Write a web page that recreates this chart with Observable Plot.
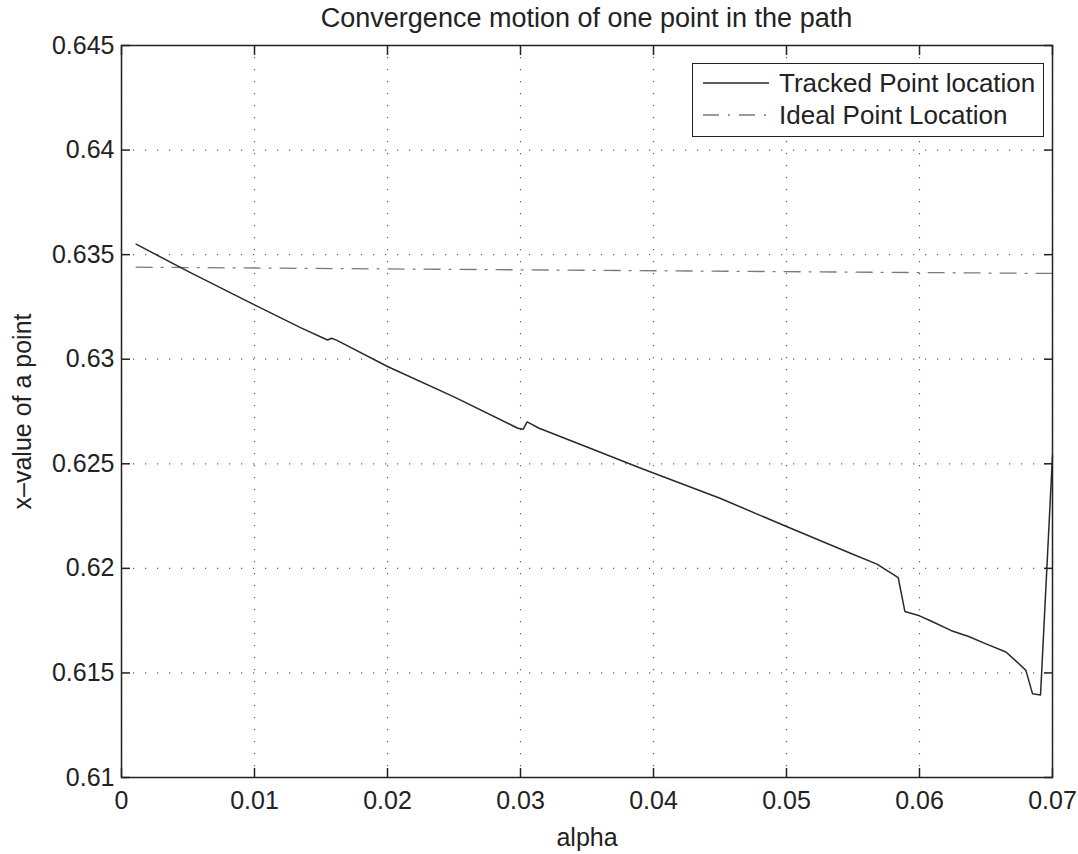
<!DOCTYPE html>
<html>
<head>
<meta charset="utf-8">
<script src="https://cdn.jsdelivr.net/npm/d3@7"></script>
<script src="https://cdn.jsdelivr.net/npm/@observablehq/plot@0.6"></script>
<style>
  html, body { margin: 0; padding: 0; background: #fff; }
  #wrap { position: relative; width: 1078px; height: 854px; font-family: "Liberation Sans", Arial, sans-serif; color: #222; }
  #title { position: absolute; left: 121px; width: 931px; top: 3px; text-align: center; font-size: 27px; line-height: 30px; }
  #legend { position: absolute; left: 692px; top: 63px; width: 350px; height: 72px; border: 1.5px solid #222; background: #fff; font-size: 26px; }
  .row { position: absolute; left: 0; height: 30px; display: flex; align-items: center; line-height: 30px; }
  .row svg { margin-left: 10px; margin-right: 10px; }
</style>
</head>
<body>
<div id="wrap">
  <div id="title">Convergence motion of one point in the path</div>
  <div id="chart"></div>
  <div id="legend"></div>
</div>
<script>
// ---- data ----
const trackedAlpha = [0.0011, 0.005, 0.010, 0.0135, 0.0152, 0.0155, 0.0158, 0.0162, 0.020, 0.025, 0.0298, 0.0302, 0.0305, 0.0314, 0.035, 0.039, 0.045, 0.050, 0.0549, 0.0568, 0.0584, 0.0589, 0.0600, 0.0609, 0.0624, 0.0637, 0.0650, 0.0665, 0.0672, 0.0680, 0.0685, 0.0691, 0.0700];
const trackedX     = [0.6355, 0.6342, 0.6326, 0.6315, 0.6310, 0.63092, 0.63100, 0.6309, 0.62965, 0.6282, 0.6267, 0.62665, 0.62700, 0.6267, 0.6258, 0.6248, 0.62335, 0.6220, 0.6207, 0.6202, 0.61956, 0.61794, 0.61773, 0.61747, 0.61702, 0.61674, 0.61639, 0.6160, 0.6156, 0.61512, 0.61400, 0.61395, 0.6254];
const idealAlpha = [0.0011, 0.0700];
const idealX     = [0.6344, 0.6341];
const xTicks = [0, 0.01, 0.02, 0.03, 0.04, 0.05, 0.06, 0.07];
const xTickLabels = ["0", "0.01", "0.02", "0.03", "0.04", "0.05", "0.06", "0.07"];
const yTicks = [0.61, 0.615, 0.62, 0.625, 0.63, 0.635, 0.64, 0.645];
const yTickLabels = ["0.61", "0.615", "0.62", "0.625", "0.63", "0.635", "0.64", "0.645"];
const seriesNames = ["Tracked Point location", "Ideal Point Location"];
const xLabel = "alpha";
const yLabel = "x–value of a point";

const tracked = trackedAlpha.map((a, i) => ({alpha: a, x: trackedX[i]}));
const ideal = idealAlpha.map((a, i) => ({alpha: a, x: idealX[i]}));
const xFmt = d => xTickLabels[xTicks.findIndex(t => Math.abs(t - d) < 1e-9)];
const yFmt = d => yTickLabels[yTicks.findIndex(t => Math.abs(t - d) < 1e-9)];

const gridStyle = {stroke: "#444", strokeOpacity: 0.85, strokeWidth: 1.2, strokeDasharray: "1.2,10.8"};
const trackedStyle = {stroke: "#2a2a2a", strokeWidth: 1.5};
const idealStyle = {stroke: "#7a7a7a", strokeWidth: 1.3, strokeDasharray: "16,9,2,9"};

const chart = Plot.plot({
  width: 1078,
  height: 854,
  marginLeft: 121,
  marginRight: 26,
  marginTop: 45,
  marginBottom: 77,
  style: {fontFamily: "Liberation Sans, Arial, sans-serif", fontSize: "25px", color: "#222", background: "transparent"},
  x: {domain: [0, 0.07]},
  y: {domain: [0.61, 0.645]},
  marks: [
    Plot.gridX(xTicks, gridStyle),
    Plot.gridY(yTicks, gridStyle),
    Plot.line(ideal, {x: "alpha", y: "x", ...idealStyle}),
    Plot.line(tracked, {x: "alpha", y: "x", ...trackedStyle}),
    Plot.frame({stroke: "#222", strokeWidth: 1.5}),
    Plot.axisX(xTicks, {anchor: "bottom", tickSize: 0, tickPadding: 14, tickFormat: xFmt, label: null}),
    Plot.axisX(xTicks, {anchor: "bottom", tickSize: -9, tickFormat: () => "", label: null, strokeWidth: 1.5}),
    Plot.axisX(xTicks, {anchor: "top", tickSize: -9, tickFormat: () => "", label: null, strokeWidth: 1.5}),
    Plot.axisY(yTicks, {anchor: "left", tickSize: 0, tickPadding: 7, tickFormat: yFmt, label: null}),
    Plot.axisY(yTicks, {anchor: "left", tickSize: -9, tickFormat: () => "", label: null, strokeWidth: 1.5}),
    Plot.axisY(yTicks, {anchor: "right", tickSize: -9, tickFormat: () => "", label: null, strokeWidth: 1.5}),
    Plot.text([xLabel], {text: d => d, frameAnchor: "bottom", lineAnchor: "bottom", dy: 68, fontSize: 25, fill: "#222"}),
    Plot.text([yLabel], {text: d => d, frameAnchor: "left", rotate: -90, lineAnchor: "middle", textAnchor: "middle", dx: -99, fontSize: 25, fill: "#222"})
  ]
});
document.getElementById("chart").appendChild(chart);

// legend
const legend = document.getElementById("legend");
const styles = [trackedStyle, idealStyle];
seriesNames.forEach((name, i) => {
  const row = document.createElement("div");
  row.className = "row";
  row.style.top = (4 + i * 32) + "px";
  const s = styles[i];
  row.innerHTML = `<svg width="66" height="10"><line x1="0" x2="66" y1="5" y2="5" stroke="${s.stroke}" stroke-width="${s.strokeWidth}" ${s.strokeDasharray ? `stroke-dasharray="${s.strokeDasharray}"` : ""}/></svg><span>${name}</span>`;
  legend.appendChild(row);
});
</script>
</body>
</html>
